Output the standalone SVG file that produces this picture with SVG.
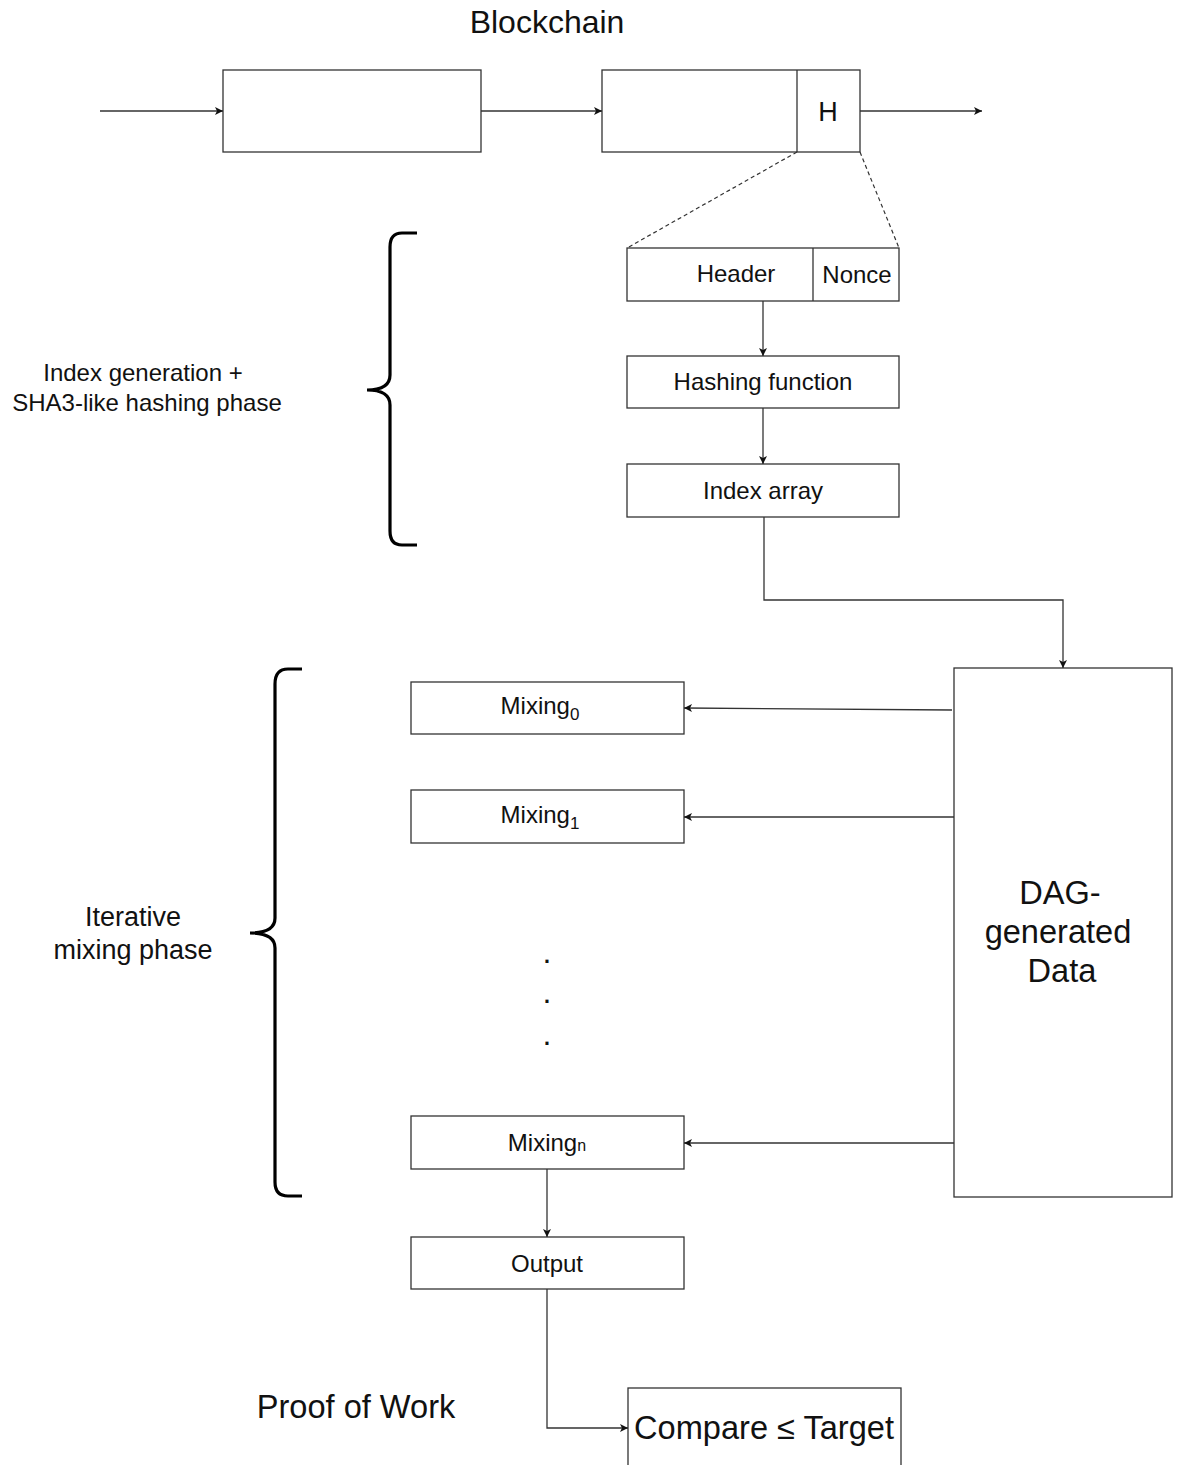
<svg xmlns="http://www.w3.org/2000/svg" width="1179" height="1465" viewBox="0 0 1179 1465">
<defs>
<style>
.box{fill:#fff;stroke:#333;stroke-width:1.3}
.ln{fill:none;stroke:#333;stroke-width:1.3}
.dash{fill:none;stroke:#333;stroke-width:1.2;stroke-dasharray:4 3}
.brace{fill:none;stroke:#000;stroke-width:3.2;stroke-linecap:butt}
text{font-family:"Liberation Sans",Arial,sans-serif;fill:#111;text-anchor:middle}
.t24{font-size:24px}
.t27{font-size:27px}
.t32{font-size:32px}
.t33{font-size:32.6px}
</style>
<marker id="ah" markerWidth="10" markerHeight="10" refX="9" refY="5" orient="auto" markerUnits="userSpaceOnUse">
<path d="M1,1 L9,5 L1,9 L3,5 Z" fill="#111"/>
</marker>
</defs>
<rect width="1179" height="1465" fill="#fff"/>

<text class="t32" x="547" y="33">Blockchain</text>

<g id="block1"><rect class="box" x="223" y="70" width="258" height="82"/></g>
<g id="block2"><rect class="box" x="602" y="70" width="258" height="82"/><line class="ln" x1="797" y1="70" x2="797" y2="152"/><text class="t27" x="828" y="121">H</text></g>

<g id="header"><rect class="box" x="627" y="248" width="272" height="53"/><line class="ln" x1="813" y1="248" x2="813" y2="301"/><text class="t24" x="736" y="282">Header</text><text class="t24" x="857" y="283">Nonce</text></g>
<g id="hashing"><rect class="box" x="627" y="356" width="272" height="52"/><text class="t24" x="763" y="390">Hashing function</text></g>
<g id="index"><rect class="box" x="627" y="464" width="272" height="53"/><text class="t24" x="763" y="499">Index array</text></g>

<g id="dag"><rect class="box" x="954" y="668" width="218" height="529"/><text class="t33" x="1060" y="904">DAG-</text><text class="t33" x="1058" y="943">generated</text><text class="t33" x="1062" y="982">Data</text></g>

<g id="mixing0"><rect class="box" x="411" y="682" width="273" height="52"/><text class="t24" x="540" y="714">Mixing<tspan font-size="17" dy="6">0</tspan></text></g>
<g id="mixing1"><rect class="box" x="411" y="790" width="273" height="53"/><text class="t24" x="540" y="823">Mixing<tspan font-size="17" dy="6">1</tspan></text></g>
<g id="dots"><text class="t32" x="547" y="963">.</text><text class="t32" x="547" y="1003">.</text><text class="t32" x="547" y="1045">.</text></g>
<g id="mixingn"><rect class="box" x="411" y="1116" width="273" height="53"/><text class="t24" x="547" y="1151">Mixing<tspan font-size="16">n</tspan></text></g>
<g id="output"><rect class="box" x="411" y="1237" width="273" height="52"/><text class="t24" x="547" y="1272">Output</text></g>

<g id="compare"><rect class="box" x="628" y="1388" width="273" height="90"/><text class="t33" x="764" y="1439">Compare ≤ Target</text></g>

<g id="labels">
<text class="t24" x="143" y="381">Index generation +</text>
<text class="t24" x="147" y="411">SHA3-like hashing phase</text>
<text class="t27" x="133" y="926">Iterative</text>
<text class="t27" x="133" y="959">mixing phase</text>
<text class="t33" x="356" y="1418">Proof of Work</text>
</g>

<g id="braces">
<path class="brace" d="M417,233 L402,233 Q390,233 390,247 L390,375 Q390,390 367,390 Q390,390 390,405 L390,531 Q390,545 402,545 L417,545"/>
<path class="brace" d="M302,669 L288,669 Q275,669 275,684 L275,918 Q275,933 250,933 Q275,933 275,948 L275,1182 Q275,1196 288,1196 L302,1196"/>
</g>

<g id="connectors">
<line class="ln" x1="100" y1="111" x2="223" y2="111" marker-end="url(#ah)"/>
<line class="ln" x1="481" y1="111" x2="602" y2="111" marker-end="url(#ah)"/>
<line class="ln" x1="860" y1="111" x2="982" y2="111" marker-end="url(#ah)"/>
<line class="dash" x1="797" y1="152" x2="627" y2="248"/>
<line class="dash" x1="860" y1="152" x2="899" y2="248"/>
<line class="ln" x1="763" y1="301" x2="763" y2="356" marker-end="url(#ah)"/>
<line class="ln" x1="763" y1="408" x2="763" y2="464" marker-end="url(#ah)"/>
<polyline class="ln" points="764,517 764,600 1063,600 1063,668" marker-end="url(#ah)"/>
<line class="ln" x1="952" y1="710" x2="684" y2="708" marker-end="url(#ah)"/>
<line class="ln" x1="954" y1="817" x2="684" y2="817" marker-end="url(#ah)"/>
<line class="ln" x1="954" y1="1143" x2="684" y2="1143" marker-end="url(#ah)"/>
<line class="ln" x1="547" y1="1169" x2="547" y2="1237" marker-end="url(#ah)"/>
<polyline class="ln" points="547,1289 547,1428 628,1428" marker-end="url(#ah)"/>
</g>
</svg>
